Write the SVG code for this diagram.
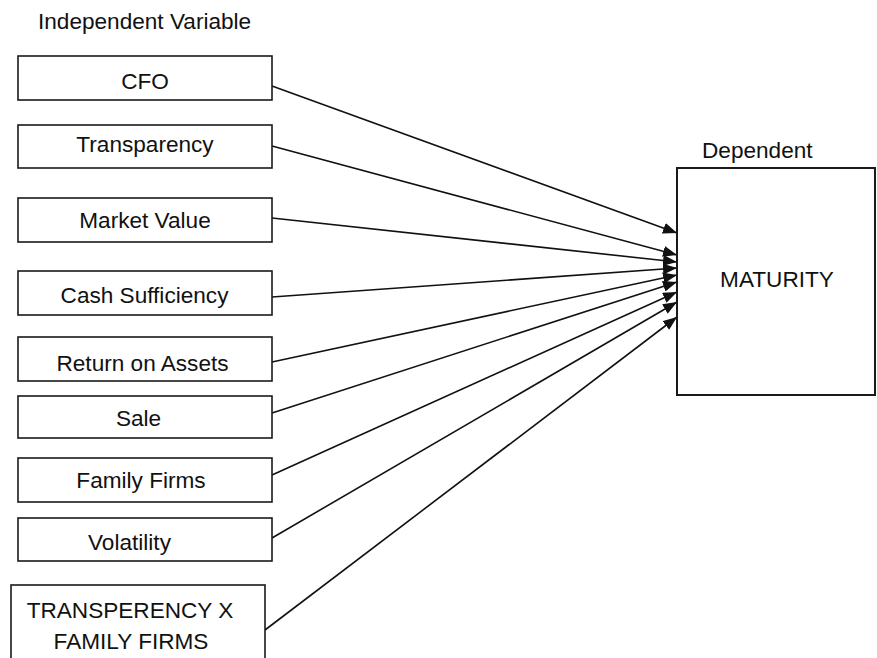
<svg xmlns="http://www.w3.org/2000/svg" width="877" height="658" viewBox="0 0 877 658">
  <style>
    .box { fill: #ffffff; stroke: #1a1a1a; stroke-width: 1.6; }
    .lbl { font-family: "Liberation Sans", Arial, sans-serif; font-size: 22.6px; fill: #111111; text-anchor: middle; }
    .hdr { font-family: "Liberation Sans", Arial, sans-serif; font-size: 22.6px; fill: #111111; }
    .edge { stroke: #111111; stroke-width: 1.6; fill: none; marker-end: url(#arrow); }
  </style>
  <defs>
    <marker id="arrow" markerUnits="userSpaceOnUse" markerWidth="15" markerHeight="11" refX="14" refY="5.5" orient="auto">
      <path d="M0,0 L14,5.5 L0,11 z" fill="#111111"/>
    </marker>
  </defs>
  <rect width="877" height="658" fill="#ffffff"/>

  <text class="hdr" x="38" y="29">Independent Variable</text>
  <text class="hdr" x="702" y="158">Dependent</text>

  <g id="connectors">
    <line class="edge" x1="272" y1="86" x2="677" y2="233"/>
    <line class="edge" x1="272" y1="146" x2="677" y2="255"/>
    <line class="edge" x1="272" y1="218" x2="677" y2="262"/>
    <line class="edge" x1="272" y1="297" x2="677" y2="268"/>
    <line class="edge" x1="272" y1="362" x2="677" y2="275"/>
    <line class="edge" x1="272" y1="413" x2="677" y2="282"/>
    <line class="edge" x1="272" y1="475" x2="677" y2="292"/>
    <line class="edge" x1="272" y1="538" x2="677" y2="302"/>
    <line class="edge" x1="265" y1="630" x2="677" y2="317"/>
  </g>

  <g id="cfo">
    <rect class="box" x="18" y="56" width="254" height="44"/>
    <text class="lbl" x="145" y="89">CFO</text>
  </g>
  <g id="transparency">
    <rect class="box" x="18" y="125" width="254" height="43"/>
    <text class="lbl" x="145" y="152">Transparency</text>
  </g>
  <g id="market-value">
    <rect class="box" x="18" y="198" width="254" height="44"/>
    <text class="lbl" x="145" y="228">Market Value</text>
  </g>
  <g id="cash-sufficiency">
    <rect class="box" x="18" y="271" width="254" height="44"/>
    <text class="lbl" x="144.5" y="303">Cash Sufficiency</text>
  </g>
  <g id="return-on-assets">
    <rect class="box" x="18" y="337" width="254" height="44"/>
    <text class="lbl" x="142.5" y="371">Return on Assets</text>
  </g>
  <g id="sale">
    <rect class="box" x="18" y="396" width="254" height="42"/>
    <text class="lbl" x="138.5" y="426">Sale</text>
  </g>
  <g id="family-firms">
    <rect class="box" x="18" y="458" width="254" height="44"/>
    <text class="lbl" x="141" y="488">Family Firms</text>
  </g>
  <g id="volatility">
    <rect class="box" x="18" y="518" width="254" height="43"/>
    <text class="lbl" x="129.5" y="550">Volatility</text>
  </g>
  <g id="transperency-x-family-firms">
    <rect class="box" x="11" y="585" width="254" height="80"/>
    <text class="lbl" x="130" y="618">TRANSPERENCY X</text>
    <text class="lbl" x="131" y="649">FAMILY FIRMS</text>
  </g>

  <g id="maturity">
    <rect class="box" x="677" y="168" width="198" height="227" style="stroke-width:2"/>
    <text class="lbl" x="777" y="287">MATURITY</text>
  </g>
</svg>
